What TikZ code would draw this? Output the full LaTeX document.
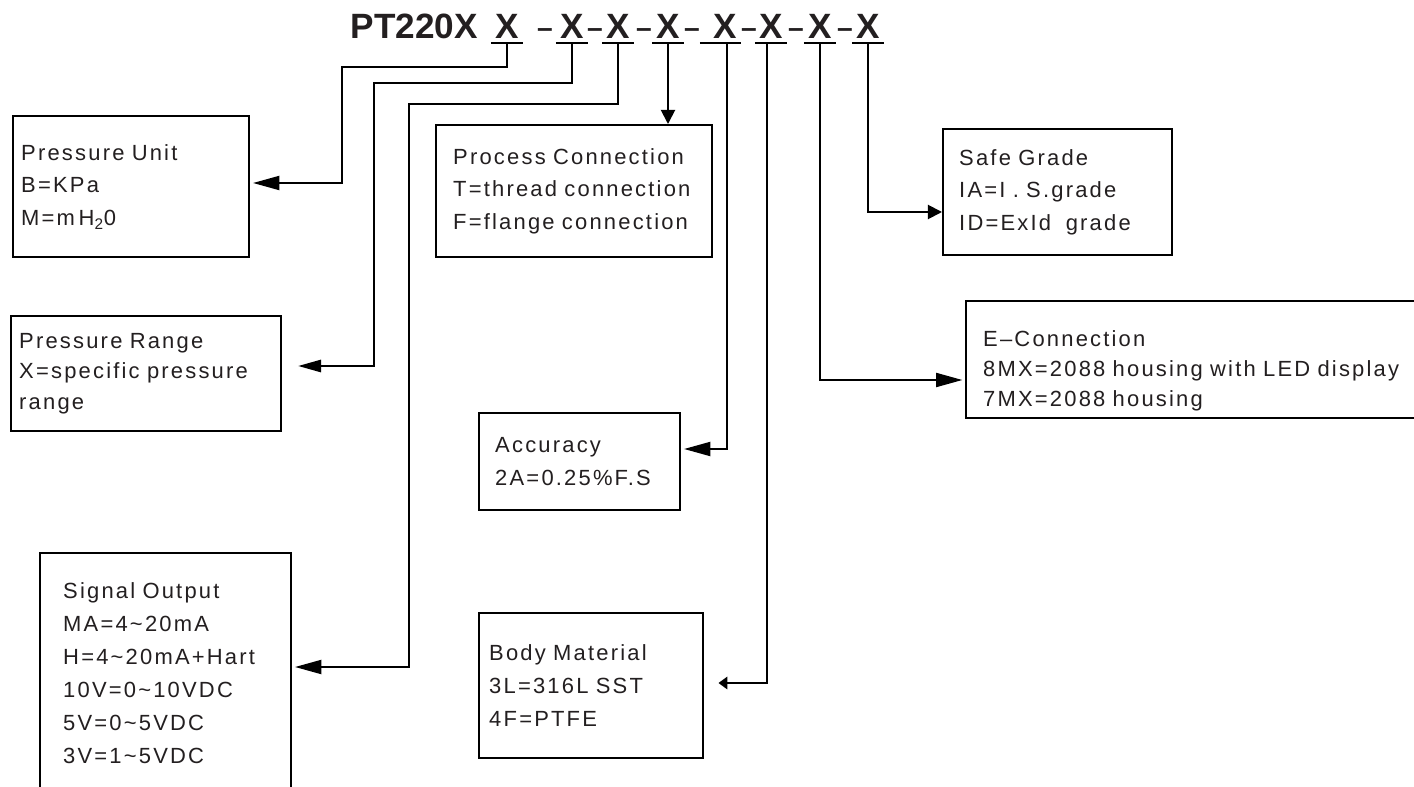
\documentclass[tikz,border=0pt]{standalone}
\usepackage{fontspec}
\setmainfont{Liberation Sans}
\newfontfamily\boxfont{Liberation Sans}[LetterSpace=10]
\usetikzlibrary{arrows.meta}
\definecolor{ink}{HTML}{231F20}

\begin{document}
\begin{tikzpicture}[x=0.02cm,y=-0.02cm,
    box/.style={draw=black, line width=1.4pt, anchor=north west, align=left, inner ysep=0pt, text=ink, font=\boxfont\fontsize{12.5pt}{18.7pt}\selectfont},
    tightbox/.style={box, font=\boxfont\fontsize{12.5pt}{17.2pt}\selectfont},
    code/.style={inner xsep=0pt, inner ysep=2.3pt, anchor=base, text=ink, font=\bfseries\fontsize{20pt}{24pt}\selectfont},
    codedash/.style={code, font=\bfseries\fontsize{16pt}{24pt}\selectfont},
    uline/.style={line width=1.1pt},
    conn/.style={line width=1.1pt},
    bigtip/.style={-{Triangle[length=15pt,width=8pt]}, shorten >=1.5pt},
    midtip/.style={-{Triangle[length=8pt,width=8pt]}},
    smalltip/.style={-{Triangle[length=5pt,width=7pt]}, shorten >=8pt}]

    \clip (0,0) rectangle (1414,787);
    \fill[white] (0,0) rectangle (1414,787);

    % order code
    \node[code, anchor=base east] (pt) at (478,39) {PT220X};
    \node[code] (x1) at (507,39) {X};
    \node[code] (x2) at (572,39) {X};
    \node[code] (x3) at (618,39) {X};
    \node[code] (x4) at (668,39) {X};
    \node[code] (x5) at (725,39) {X};
    \node[code] (x6) at (771,39) {X};
    \node[code] (x7) at (820,39) {X};
    \node[code] (x8) at (868,39) {X};
    \foreach \d/\x in {1/545,2/595,3/644,4/692,5/749,6/796,7/845}
        \node[codedash] (d\d) at (\x,38) {\textendash};

    \foreach \i in {1,2,3,4,6,7,8}
        \draw[uline] ([xshift=-2.3pt]x\i.south west) -- ([xshift=2.3pt]x\i.south east);
    \draw[uline] ([xshift=-0.26cm]x5.south west) -- ([xshift=2.3pt]x5.south east);

    % option boxes
    \node[box, text width=4.40cm, inner xsep=0.16cm, minimum height=2.82cm] (pu) at (12,115)
        {Pressure Unit\\B=KPa\\M=m\,H\textsubscript{2}0};
    \node[tightbox, text width=5.08cm, inner xsep=0.16cm, minimum height=2.30cm] (pr) at (10,315)
        {Pressure Range\\X=specific pressure\\range};
    \node[box, text width=4.10cm, inner xsep=0.46cm, minimum height=4.80cm] (so) at (39,552)
        {Signal Output\\MA=4\textasciitilde 20mA\\H=4\textasciitilde 20mA+Hart\\10V=0\textasciitilde 10VDC\\5V=0\textasciitilde 5VDC\\3V=1\textasciitilde 5VDC};
    \node[box, text width=4.84cm, inner xsep=0.34cm, minimum height=2.64cm] (pc) at (435,124)
        {Process Connection\\T=thread connection\\F=flange connection};
    \node[box, text width=3.38cm, inner xsep=0.32cm, minimum height=1.94cm] (ac) at (478,412)
        {Accuracy\\2A=0.25\%F.S};
    \node[box, text width=4.08cm, inner xsep=0.20cm, minimum height=2.90cm] (bm) at (478,612)
        {Body Material\\3L=316L SST\\4F=PTFE};
    \node[tightbox, text width=9.32cm, inner xsep=0.34cm, minimum height=2.34cm] (ec) at (965,300)
        {\rule{0pt}{22pt}E\textendash Connection\\8MX=2088 housing with LED display\\7MX=2088 housing};
    \node[box, text width=3.94cm, inner xsep=0.32cm, minimum height=2.52cm] (sg) at (942,128)
        {Safe Grade\\IA=I . S.grade\\ID=ExId~ grade};

    % bends
    \coordinate (b1) at (342,67);
    \coordinate (e1) at (342,183);
    \coordinate (b2) at (374,83);
    \coordinate (e2) at (374,366);
    \coordinate (b3) at (409,104);
    \coordinate (e3) at (409,667);
    \coordinate (e5) at (727,449);
    \coordinate (e6) at (767,683);
    \coordinate (e7) at (820,380);
    \coordinate (e8) at (868,212);

    \draw[conn, bigtip] (x1.south) |- (b1) -- (e1) -- (pu.east |- e1);
    \draw[conn, -{Triangle[length=13pt,width=7pt]}, shorten >=9pt] (x2.south) |- (b2) -- (e2) -- (pr.east |- e2);
    \draw[conn, bigtip] (x3.south) |- (b3) -- (e3) -- (so.east |- e3);
    \draw[conn, midtip] (x4.south) -- (x4.south |- pc.north);
    \draw[conn, bigtip] (x5.south -| e5) -- (e5) -- (ac.east |- e5);
    \draw[conn, smalltip] (x6.south -| e6) -- (e6) -- (bm.east |- e6);
    \draw[conn, bigtip] (x7.south) -- (e7) -- (ec.west |- e7);
    \draw[conn, midtip] (x8.south) -- (e8) -- (sg.west |- e8);

\end{tikzpicture}
\end{document}
